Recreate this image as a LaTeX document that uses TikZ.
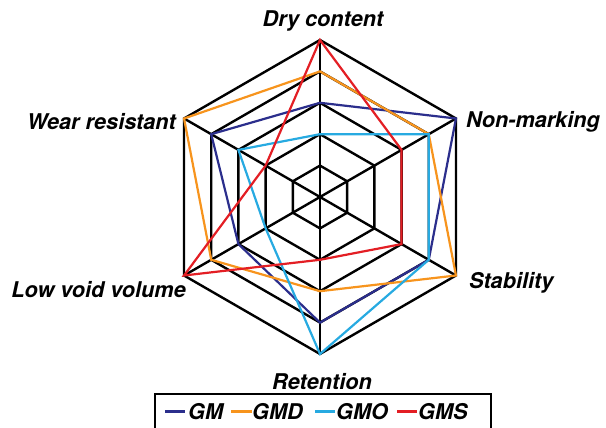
\documentclass[tikz,border=0pt]{standalone}
\usepackage{fontspec}
\setmainfont{TeX Gyre Heros}
\usetikzlibrary{calc}
\definecolor{cGM}{HTML}{2B2E8C}
\definecolor{cGMD}{HTML}{F7941D}
\definecolor{cGMO}{HTML}{27AAE1}
\definecolor{cGMS}{HTML}{E31E24}
\begin{document}
\begin{tikzpicture}[x=1pt,y=1pt,
  gridline/.style={line width=2.4pt,black,line join=miter},
  series/.style={line width=2.2pt,line join=miter},
  axislabel/.style={font=\fontsize{21.7}{25}\selectfont\bfseries\itshape,inner sep=0pt},
  legtext/.style={font=\fontsize{21.7}{25}\selectfont\bfseries\itshape,inner sep=0pt,anchor=west},
  legline/.style={line width=3pt}]
\useasboundingbox (0,0) rectangle (606,428);
\coordinate (C) at (320,231);
% level points
\foreach \i/\a in {1/90,2/30,3/-30,4/-90,5/210,6/150}{
  \foreach \k in {0,1,2,3,4,5}{
    \coordinate (p\i-\k) at ($(C)+(\a:{\k*31.4})$);
  }
}
% hexagons
\foreach \k in {1,2,3,4,5}{
  \draw[gridline] (p1-\k) -- (p2-\k) -- (p3-\k) -- (p4-\k) -- (p5-\k) -- (p6-\k) -- cycle;
}
% spokes
\foreach \i in {1,...,6}{
  \draw[gridline] (C) -- (p\i-5);
}
% series
\draw[series,cGM]  (p1-3) -- (p2-5) -- (p3-4) -- (p4-4) -- (p5-3) -- (p6-4) -- cycle;
\draw[series,cGMD] (p1-4) -- (p2-4) -- (p3-5) -- (p4-3) -- (p5-4) -- (p6-5) -- cycle;
\draw[series,cGMO] (p1-2) -- (p2-4) -- (p3-4) -- (p4-5) -- (p5-2) -- (p6-3) -- cycle;
\draw[series,cGMS] (p1-5) -- (p2-3) -- (p3-3) -- (p4-2) -- (p5-5) -- (p6-2) -- cycle;
% axis labels
\node[axislabel] (ldry) at (323,407) {Dry content};
\node[axislabel,anchor=west] (lnon) at (466,306) {Non-marking};
\node[axislabel,anchor=west] (lstab) at (469,145) {Stability};
\node[axislabel] (lret) at (322,46) {Retention};
\node[axislabel,anchor=east] (llow) at (186,138) {Low void volume};
\node[axislabel,anchor=east] (lwear) at (176,306) {Wear resistant};
% legend
\coordinate (lb1) at (155,-3);
\coordinate (lb2) at (155,34);
\coordinate (lb3) at (491,34);
\coordinate (lb4) at (491,-3);
\draw[line width=2.2pt] (lb1) -- (lb2) -- (lb3) -- (lb4);
\coordinate (a1) at (165,16); \coordinate (b1) at (185,16);
\coordinate (a2) at (231,16); \coordinate (b2) at (252,16);
\coordinate (a3) at (315,16); \coordinate (b3) at (335,16);
\coordinate (a4) at (397,16); \coordinate (b4) at (417,16);
\draw[legline,cGM] (a1) -- (b1);
\draw[legline,cGMD] (a2) -- (b2);
\draw[legline,cGMO] (a3) -- (b3);
\draw[legline,cGMS] (a4) -- (b4);
\node[legtext] (t1) at (188,16) {GM};
\node[legtext] (t2) at (252,16) {GMD};
\node[legtext] (t3) at (336,16) {GMO};
\node[legtext] (t4) at (418,16) {GMS};
\end{tikzpicture}
\end{document}
